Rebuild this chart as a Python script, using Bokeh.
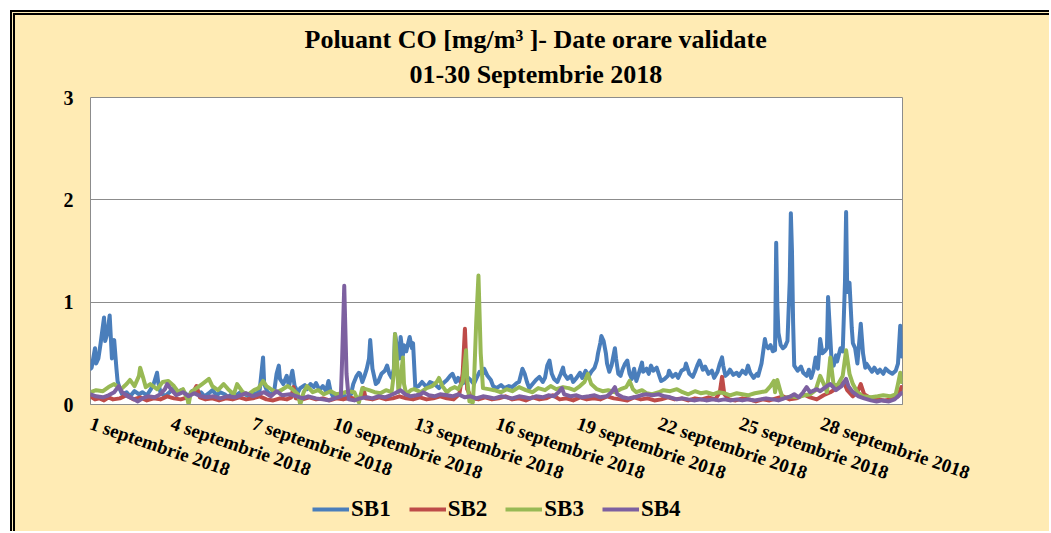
from bokeh.plotting import figure
from bokeh.models import Range1d, FixedTicker, Legend, LegendItem, Title
from bokeh.layouts import column
from bokeh.embed import file_html
from bokeh.resources import INLINE

# ---------------- data (hours since 1 Sep 2018 00:00, CO mg/m3) ----------------
tick_hours = [0, 72, 144, 216, 288, 360, 432, 504, 576, 648]
tick_labels = ["1 septembrie 2018", "4 septembrie 2018", "7 septembrie 2018",
               "10 septembrie 2018", "13 septembrie 2018", "16 septembrie 2018",
               "19 septembrie 2018", "22 septembrie 2018", "25 septembrie 2018",
               "28 septembrie 2018"]
series_names = ["SB1", "SB2", "SB3", "SB4"]
title_line1 = "Poluant CO [mg/m\u00b3 ]- Date orare validate"
title_line2 = "01-30 Septembrie 2018"

sb1_h = [0, 1, 4, 5, 7, 9, 12, 13, 15, 17, 19, 20, 21, 23, 24, 26, 28, 32, 35, 39, 43, 46, 50, 53,
         56, 59, 60, 62, 66, 69, 73, 76, 80, 83, 87, 90, 94, 98, 101, 105, 108, 112, 115, 119, 122,
         126, 129, 133, 137, 140, 144, 147, 150, 153, 154, 157, 160, 163, 165, 167, 168, 171, 174,
         176, 179, 181, 184, 186, 190, 192, 195, 198, 200, 203, 206, 209, 211, 213, 215, 218, 222,
         224, 227, 231, 233, 236, 238, 239, 241, 243, 245, 247, 248, 250, 253, 255, 258, 261, 263,
         265, 267, 269, 270, 272, 274, 275, 277, 278, 280, 283, 285, 286, 288, 291, 294, 298, 301,
         305, 309, 312, 316, 319, 321, 324, 326, 329, 332, 334, 337, 340, 342, 345, 348, 349, 352,
         355, 357, 360, 364, 367, 371, 374, 378, 380, 383, 385, 387, 389, 392, 395, 398, 401, 403,
         405, 407, 409, 411, 414, 417, 419, 420, 423, 426, 428, 431, 434, 436, 439, 442, 444, 447,
         449, 450, 452, 453, 455, 457, 458, 460, 462, 465, 466, 468, 470, 472, 474, 476, 478, 480,
         482, 484, 486, 489, 490, 493, 495, 497, 499, 502, 505, 506, 509, 512, 513, 516, 519, 521,
         524, 527, 528, 531, 534, 536, 538, 540, 543, 545, 548, 551, 553, 556, 558, 560, 561, 563,
         565, 567, 570, 573, 575, 578, 581, 583, 585, 588, 591, 592, 595, 598, 599, 601, 603, 605,
         607, 608, 609, 610, 612, 614, 616, 618, 620, 621, 622, 623, 624, 627, 630, 632, 635, 637,
         639, 641, 643, 645, 647, 649, 651, 653, 654, 655, 657, 659, 661, 662, 665, 667, 669, 670,
         671, 673, 675, 676, 678, 680, 683, 685, 687, 688, 691, 693, 695, 698, 700, 703, 705, 708,
         711, 714, 716, 718, 719]
sb1_v = [0.35, 0.36, 0.55, 0.40, 0.45, 0.60, 0.85, 0.62, 0.70, 0.87, 0.45, 0.60, 0.63, 0.35, 0.23,
         0.15, 0.10, 0.12, 0.08, 0.13, 0.10, 0.12, 0.09, 0.14, 0.20, 0.31, 0.22, 0.12, 0.08, 0.11,
         0.15, 0.10, 0.14, 0.12, 0.08, 0.13, 0.10, 0.12, 0.08, 0.11, 0.14, 0.09, 0.12, 0.10, 0.07,
         0.11, 0.09, 0.12, 0.10, 0.08, 0.12, 0.10, 0.14, 0.46, 0.20, 0.12, 0.10, 0.14, 0.30, 0.38,
         0.25, 0.20, 0.28, 0.18, 0.33, 0.18, 0.12, 0.16, 0.19, 0.15, 0.20, 0.17, 0.21, 0.14, 0.18,
         0.13, 0.23, 0.12, 0.08, 0.10, 0.06, 0.10, 0.06, 0.10, 0.20, 0.28, 0.31, 0.30, 0.22, 0.28,
         0.35, 0.45, 0.63, 0.35, 0.20, 0.22, 0.30, 0.33, 0.38, 0.30, 0.26, 0.35, 0.69, 0.55, 0.45,
         0.66, 0.48, 0.58, 0.52, 0.66, 0.55, 0.60, 0.17, 0.18, 0.22, 0.17, 0.22, 0.20, 0.16, 0.20,
         0.24, 0.28, 0.30, 0.22, 0.26, 0.20, 0.22, 0.27, 0.24, 0.20, 0.25, 0.32, 0.30, 0.35, 0.28,
         0.24, 0.18, 0.16, 0.19, 0.16, 0.18, 0.17, 0.21, 0.22, 0.35, 0.30, 0.22, 0.16, 0.20, 0.24,
         0.27, 0.22, 0.26, 0.38, 0.43, 0.30, 0.25, 0.22, 0.30, 0.36, 0.30, 0.25, 0.28, 0.22, 0.26,
         0.31, 0.26, 0.33, 0.28, 0.32, 0.36, 0.43, 0.50, 0.60, 0.67, 0.62, 0.50, 0.40, 0.32, 0.38,
         0.55, 0.45, 0.30, 0.28, 0.35, 0.40, 0.43, 0.30, 0.25, 0.35, 0.23, 0.30, 0.41, 0.32, 0.35,
         0.30, 0.38, 0.33, 0.36, 0.26, 0.23, 0.25, 0.28, 0.33, 0.27, 0.30, 0.26, 0.33, 0.35, 0.40,
         0.30, 0.27, 0.32, 0.38, 0.43, 0.34, 0.37, 0.30, 0.33, 0.26, 0.32, 0.40, 0.46, 0.38, 0.28,
         0.30, 0.34, 0.29, 0.31, 0.28, 0.33, 0.30, 0.38, 0.31, 0.26, 0.30, 0.28, 0.40, 0.64, 0.58,
         0.55, 0.58, 0.52, 0.53, 1.58, 0.97, 0.70, 0.58, 0.55, 0.57, 0.62, 1.20, 1.87, 1.50, 0.80,
         0.38, 0.33, 0.37, 0.31, 0.28, 0.34, 0.26, 0.33, 0.46, 0.35, 0.64, 0.50, 0.52, 0.55, 1.05,
         0.85, 0.45, 0.38, 0.48, 0.42, 0.55, 0.52, 1.20, 1.88, 1.10, 1.19, 0.75, 0.60, 0.55, 0.40,
         0.79, 0.50, 0.36, 0.40, 0.35, 0.32, 0.36, 0.31, 0.34, 0.30, 0.35, 0.32, 0.30, 0.33, 0.40,
         0.77, 0.47]

sb2_h = [0, 4, 8, 12, 16, 20, 26, 32, 38, 44, 50, 56, 62, 68, 74, 80, 86, 92, 94, 97, 102, 108,
         114, 120, 126, 132, 138, 144, 150, 156, 162, 168, 174, 178, 180, 182, 188, 194, 200, 206,
         212, 218, 224, 230, 236, 240, 242, 244, 250, 256, 262, 268, 274, 280, 286, 292, 298, 304,
         310, 316, 322, 327, 330, 332, 334, 338, 344, 350, 356, 362, 368, 374, 380, 386, 392, 398,
         404, 410, 416, 422, 428, 434, 440, 446, 452, 458, 464, 470, 476, 482, 488, 494, 500, 506,
         512, 518, 524, 530, 536, 542, 548, 554, 558, 560, 562, 566, 572, 578, 584, 590, 596, 602,
         608, 614, 620, 626, 632, 638, 644, 650, 656, 662, 668, 671, 676, 680, 683, 686, 692, 698,
         704, 710, 716, 719]
sb2_v = [0.08, 0.05, 0.06, 0.04, 0.07, 0.05, 0.06, 0.09, 0.05, 0.07, 0.04, 0.06, 0.05, 0.08, 0.06,
         0.05, 0.07, 0.14, 0.18, 0.07, 0.05, 0.06, 0.04, 0.06, 0.05, 0.07, 0.05, 0.06, 0.08, 0.05,
         0.04, 0.06, 0.05, 0.07, 0.17, 0.06, 0.05, 0.07, 0.05, 0.06, 0.04, 0.06, 0.05, 0.07, 0.05,
         0.08, 0.16, 0.06, 0.05, 0.07, 0.05, 0.06, 0.08, 0.06, 0.05, 0.07, 0.05, 0.06, 0.08, 0.06,
         0.05, 0.10, 0.30, 0.74, 0.15, 0.06, 0.05, 0.07, 0.05, 0.06, 0.08, 0.05, 0.06, 0.04, 0.07,
         0.05, 0.06, 0.09, 0.05, 0.06, 0.04, 0.07, 0.05, 0.06, 0.05, 0.08, 0.06, 0.05, 0.04, 0.07,
         0.05, 0.06, 0.04, 0.05, 0.07, 0.05, 0.06, 0.04, 0.06, 0.05, 0.07, 0.05, 0.12, 0.27, 0.10,
         0.05, 0.04, 0.06, 0.05, 0.03, 0.05, 0.04, 0.06, 0.08, 0.05, 0.06, 0.10, 0.07, 0.05, 0.09,
         0.12, 0.16, 0.22, 0.14, 0.08, 0.12, 0.20, 0.10, 0.06, 0.05, 0.04, 0.05, 0.08, 0.17]

sb3_h = [0, 5, 11, 16, 21, 27, 32, 35, 39, 43, 44, 47, 49, 53, 59, 64, 69, 74, 78, 82, 86, 87, 89,
         94, 99, 105, 108, 113, 118, 122, 127, 130, 135, 140, 145, 149, 153, 156, 160, 165, 169, 175,
         179, 184, 186, 189, 192, 197, 202, 207, 213, 218, 223, 229, 234, 238, 241, 247, 252, 257,
         262, 267, 269, 270, 272, 273, 275, 277, 278, 280, 284, 287, 293, 298, 303, 307, 309, 312,
         316, 319, 323, 326, 330, 333, 334, 336, 339, 340, 342, 344, 346, 348, 353, 358, 364, 369,
         374, 380, 386, 392, 397, 403, 408, 413, 419, 424, 429, 434, 438, 441, 444, 449, 454, 459,
         465, 470, 475, 478, 481, 484, 489, 493, 498, 504, 508, 514, 520, 525, 530, 536, 541, 546,
         552, 557, 562, 567, 573, 578, 583, 589, 594, 599, 603, 606, 607, 609, 612, 614, 621, 627,
         633, 638, 643, 647, 651, 653, 656, 659, 663, 667, 670, 673, 676, 680, 685, 692, 698, 703,
         709, 714, 716, 718, 719]
sb3_v = [0.12, 0.14, 0.13, 0.17, 0.20, 0.15, 0.20, 0.24, 0.18, 0.28, 0.36, 0.25, 0.17, 0.20, 0.15,
         0.22, 0.23, 0.18, 0.12, 0.15, 0.05, 0.00, 0.12, 0.16, 0.20, 0.25, 0.18, 0.14, 0.20, 0.15,
         0.10, 0.20, 0.12, 0.10, 0.14, 0.16, 0.23, 0.18, 0.15, 0.12, 0.14, 0.18, 0.15, 0.10, 0.00,
         0.12, 0.18, 0.12, 0.14, 0.10, 0.13, 0.10, 0.11, 0.13, 0.12, 0.02, 0.16, 0.14, 0.12, 0.11,
         0.14, 0.12, 0.30, 0.69, 0.40, 0.12, 0.25, 0.46, 0.20, 0.10, 0.14, 0.15, 0.12, 0.16, 0.18,
         0.22, 0.26, 0.18, 0.12, 0.15, 0.17, 0.15, 0.22, 0.53, 0.25, 0.03, 0.02, 0.20, 0.80, 1.26,
         0.50, 0.16, 0.15, 0.14, 0.12, 0.15, 0.13, 0.17, 0.14, 0.12, 0.16, 0.14, 0.18, 0.15, 0.17,
         0.16, 0.14, 0.18, 0.22, 0.30, 0.20, 0.15, 0.13, 0.14, 0.12, 0.15, 0.17, 0.23, 0.15, 0.12,
         0.14, 0.11, 0.10, 0.12, 0.14, 0.13, 0.15, 0.12, 0.10, 0.13, 0.11, 0.12, 0.10, 0.12, 0.11,
         0.09, 0.11, 0.10, 0.09, 0.11, 0.12, 0.13, 0.18, 0.23, 0.12, 0.24, 0.12, 0.06, 0.08, 0.07,
         0.09, 0.10, 0.14, 0.28, 0.18, 0.12, 0.46, 0.18, 0.20, 0.28, 0.53, 0.30, 0.20, 0.12, 0.08,
         0.07, 0.08, 0.09, 0.08, 0.10, 0.20, 0.31, 0.22]

sb4_h = [0, 5, 11, 16, 21, 25, 28, 33, 37, 42, 46, 51, 57, 62, 66, 68, 72, 76, 82, 87, 92, 98, 103,
         109, 115, 121, 128, 133, 138, 144, 149, 154, 160, 165, 170, 177, 183, 188, 193, 200, 206,
         211, 216, 222, 223, 225, 227, 229, 234, 239, 245, 250, 255, 261, 266, 270, 275, 279, 284,
         289, 293, 295, 300, 305, 310, 316, 321, 326, 332, 337, 342, 348, 353, 358, 364, 369, 374,
         380, 385, 390, 395, 401, 406, 411, 415, 418, 420, 426, 431, 436, 442, 447, 452, 458, 462,
         465, 467, 472, 477, 482, 488, 493, 498, 504, 509, 514, 520, 525, 530, 536, 541, 546, 552,
         557, 562, 567, 573, 578, 583, 589, 594, 599, 605, 610, 615, 621, 624, 628, 632, 635, 638,
         644, 647, 653, 656, 661, 666, 670, 672, 676, 681, 686, 692, 697, 702, 708, 713, 716, 719]
sb4_v = [0.10, 0.08, 0.07, 0.09, 0.12, 0.18, 0.12, 0.08, 0.06, 0.03, 0.06, 0.08, 0.07, 0.10, 0.15,
         0.20, 0.14, 0.09, 0.12, 0.08, 0.11, 0.08, 0.07, 0.08, 0.06, 0.08, 0.07, 0.09, 0.11, 0.08,
         0.10, 0.12, 0.08, 0.13, 0.09, 0.10, 0.08, 0.06, 0.08, 0.06, 0.05, 0.04, 0.06, 0.08, 0.40,
         1.16, 0.30, 0.05, 0.04, 0.06, 0.07, 0.06, 0.08, 0.07, 0.09, 0.11, 0.14, 0.10, 0.08, 0.09,
         0.10, 0.12, 0.09, 0.08, 0.10, 0.09, 0.08, 0.10, 0.07, 0.08, 0.06, 0.08, 0.07, 0.06, 0.08,
         0.07, 0.06, 0.08, 0.07, 0.06, 0.08, 0.07, 0.09, 0.08, 0.12, 0.16, 0.10, 0.08, 0.09, 0.07,
         0.08, 0.09, 0.07, 0.08, 0.12, 0.17, 0.10, 0.07, 0.06, 0.07, 0.09, 0.10, 0.09, 0.10, 0.08,
         0.07, 0.05, 0.06, 0.05, 0.04, 0.05, 0.04, 0.05, 0.04, 0.05, 0.04, 0.05, 0.04, 0.05, 0.04,
         0.05, 0.06, 0.05, 0.04, 0.06, 0.08, 0.10, 0.07, 0.12, 0.17, 0.12, 0.15, 0.13, 0.18, 0.20,
         0.14, 0.18, 0.25, 0.18, 0.12, 0.08, 0.06, 0.04, 0.03, 0.04, 0.03, 0.05, 0.08, 0.11]

colors = ["#4A7EBB", "#BE4B48", "#98B954", "#7D60A0"]
series = [(sb1_h, sb1_v), (sb2_h, sb2_v), (sb3_h, sb3_v), (sb4_h, sb4_v)]

# ---------------- main chart ----------------
FONT = "Liberation Serif"
BG = "#FFEBB4"
p = figure(width=1034, height=481, output_backend="svg", toolbar_location=None,
           x_range=Range1d(0, 720), y_range=Range1d(0, 3),
           min_border_left=75, min_border_top=82, min_border_right=147, min_border_bottom=92)
p.background_fill_color = "white"
p.border_fill_color = BG
p.outline_line_color = "#8C8C8C"
p.outline_line_width = 1

for txt, off, so in [(title_line2, 319, 17), (title_line1, 214, -9)]:
    p.add_layout(Title(text=txt, align="left", offset=off, standoff=so,
                       text_font=FONT, text_font_style="bold", text_font_size="26px",
                       text_color="black"), "above")

p.xgrid.visible = False
p.ygrid.grid_line_color = "#8C8C8C"
p.ygrid.grid_line_width = 1
p.ygrid.ticker = FixedTicker(ticks=[0, 1, 2, 3])

p.yaxis.ticker = FixedTicker(ticks=[0, 1, 2, 3])
p.yaxis.axis_line_color = None
p.yaxis.major_tick_line_color = None
p.yaxis.minor_tick_line_color = None
p.yaxis.major_tick_out = 0
p.yaxis.major_tick_in = 0
p.yaxis.major_label_standoff = 17
p.yaxis.major_label_text_font = FONT
p.yaxis.major_label_text_font_style = "bold"
p.yaxis.major_label_text_font_size = "20px"
p.yaxis.major_label_text_color = "black"

p.xaxis.ticker = FixedTicker(ticks=tick_hours)
p.xaxis.major_label_overrides = {h: lab for h, lab in zip(tick_hours, tick_labels)}
p.xaxis.axis_line_color = "#8C8C8C"
p.xaxis.major_tick_line_color = None
p.xaxis.minor_tick_line_color = None
p.xaxis.major_tick_out = 0
p.xaxis.major_tick_in = 0
p.xaxis.major_label_orientation = -0.33
p.xaxis.major_label_standoff = 18
p.xaxis.major_label_text_font = FONT
p.xaxis.major_label_text_font_style = "bold"
p.xaxis.major_label_text_font_size = "19px"
p.xaxis.major_label_text_color = "black"

for (hrs, vals), col in zip(series, colors):
    p.line(hrs, vals, line_color=col, line_width=4, line_join="round", line_cap="round")

# ---------------- legend strip ----------------
lf = figure(width=1034, height=35, output_backend="svg", toolbar_location=None,
            x_axis_type=None, y_axis_type=None, x_range=Range1d(0, 720), y_range=Range1d(10, 11),
            min_border=0)
lf.background_fill_color = BG
lf.border_fill_color = BG
lf.outline_line_color = None
lf.xgrid.visible = False
lf.ygrid.visible = False
leg_renderers = []
for (hrs, vals), col in zip(series, colors):
    leg_renderers.append(lf.line(hrs, vals, line_color=col, line_width=4))

legend = Legend(items=[LegendItem(label=n, renderers=[r]) for n, r in zip(series_names, leg_renderers)],
                orientation="horizontal", location=(222, 9),
                label_text_font=FONT, label_text_font_style="bold", label_text_font_size="23px",
                label_text_color="black", glyph_width=37, glyph_height=20, label_standoff=2,
                spacing=18, padding=0, margin=0, border_line_color=None,
                background_fill_alpha=0)
lf.add_layout(legend)

layout = column(p, lf, spacing=0)
layout.styles = {"margin-left": "10px", "margin-top": "10px",
                 "border-left": "5px double #000000", "border-top": "5px double #000000",
                 "background-color": BG}

open("out.html", "w").write(file_html(layout, INLINE))
